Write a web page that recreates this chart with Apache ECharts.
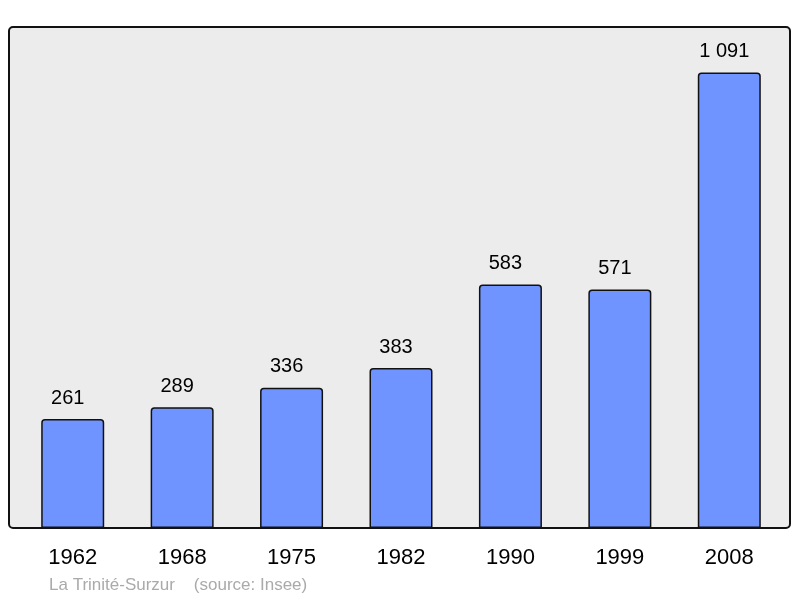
<!DOCTYPE html>
<html>
<head>
<meta charset="utf-8">
<script src="https://cdn.jsdelivr.net/npm/echarts@6/dist/echarts.min.js"></script>
<style>
  html, body { margin: 0; padding: 0; background: #fff; }
  #chart { width: 800px; height: 598px; }
</style>
</head>
<body>
<div id="chart"></div>
<script>
var years = ['1962', '1968', '1975', '1982', '1990', '1999', '2008'];
var population = [261, 289, 336, 383, 583, 571, 1091];
var popLabels = ['261', '289', '336', '383', '583', '571', '1 091'];
var footer = 'La Trinité-Surzur    (source: Insee)';

var chart = echarts.init(document.getElementById('chart'));

var option = {
    animation: false,
    textStyle: { fontFamily: 'Liberation Sans, Arial, sans-serif' },
    grid: { left: 18, right: 16, top: 27, bottom: 70 },
    xAxis: {
        type: 'category',
        data: years,
        axisLine: { show: false },
        axisTick: { show: false },
        axisLabel: { color: '#000', fontSize: 22, margin: 19 }
    },
    yAxis: {
        type: 'value',
        min: 0,
        max: 1200,
        show: false
    },
    graphic: [
        {
            type: 'rect', z: -10, silent: true,
            shape: { x: 9, y: 27, width: 781, height: 501, r: 4 },
            style: { fill: '#ececec', stroke: null }
        },
        {
            type: 'rect', z: 100, silent: true,
            shape: { x: 9, y: 27, width: 781, height: 501, r: 4 },
            style: { fill: null, stroke: '#111', lineWidth: 2 }
        },
        {
            type: 'text', left: 49, top: 577, silent: true,
            style: { text: footer, fill: '#aaa', fontSize: 17, fontFamily: 'Liberation Sans, Arial, sans-serif' }
        }
    ],
    series: [{
        type: 'bar',
        data: population,
        barWidth: 63,
        itemStyle: {
            color: '#7094ff',
            borderColor: '#111',
            borderWidth: 1.5,
            borderRadius: [3, 3, 0, 0]
        },
        label: {
            show: true,
            position: 'top',
            distance: 11,
            offset: [-5, 0],
            color: '#000',
            fontSize: 20,
            formatter: function (p) { return popLabels[p.dataIndex]; }
        }
    }]
};
chart.setOption(option);
</script>
</body>
</html>
